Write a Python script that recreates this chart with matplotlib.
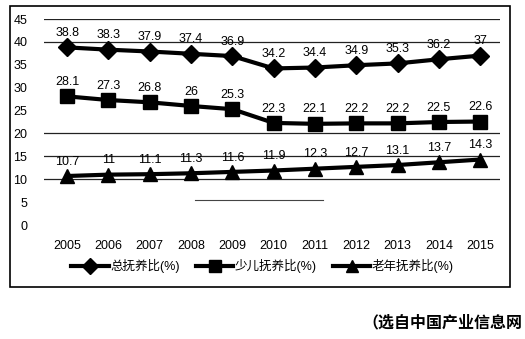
import matplotlib.pyplot as plt
from matplotlib.patches import Rectangle
from matplotlib.lines import Line2D

plt.rcParams['font.family'] = ['Liberation Sans', 'Noto Sans CJK SC', 'DejaVu Sans']

# data
years = [2005, 2006, 2007, 2008, 2009, 2010, 2011, 2012, 2013, 2014, 2015]
total = [38.8, 38.3, 37.9, 37.4, 36.9, 34.2, 34.4, 34.9, 35.3, 36.2, 37]
child = [28.1, 27.3, 26.8, 26, 25.3, 22.3, 22.1, 22.2, 22.2, 22.5, 22.6]
elder = [10.7, 11, 11.1, 11.3, 11.6, 11.9, 12.3, 12.7, 13.1, 13.7, 14.3]
series_names = ['总抚养比(%)', '少儿抚养比(%)', '老年抚养比(%)']
yticks = [0, 5, 10, 15, 20, 25, 30, 35, 40, 45]

W, H = 525, 339
fig = plt.figure(figsize=(W / 100, H / 100), dpi=100)

# outer frame
fig.patches.append(Rectangle((10 / W, 1 - 287 / H), 500 / W, 281 / H,
                             transform=fig.transFigure, fill=False,
                             edgecolor='black', linewidth=1.2))

ax = fig.add_axes([44 / W, 1 - 225 / H, 456 / W, 206 / H])
ax.set_xlim(2004.44, 2015.48)
ax.set_ylim(0, 45)
for s in ax.spines.values():
    s.set_visible(False)

# partial grid lines like the scanned original
for y in [45, 40, 20, 15, 10]:
    ax.axhline(y, color='#222222', linewidth=0.9, zorder=1)
ax.plot([2008.1, 2011.2], [5.5, 5.5], color='#444444', linewidth=0.8, zorder=1)

styles = [('D', 9), ('s', 10), ('^', 10)]
handles = []
for vals, (m, ms), name in zip([total, child, elder], styles, series_names):
    ax.plot(years, vals, color='black', linewidth=3, marker=m, markersize=ms, zorder=3)
    handles.append(Line2D([], [], color='black', linewidth=3, marker=m, markersize=ms - 1, label=name))
    for x, v in zip(years, vals):
        ax.annotate(f'{v:g}', (x, v), xytext=(0, 6), textcoords='offset points',
                    ha='center', va='bottom', fontsize=9, zorder=4)

ax.set_yticks(yticks)
ax.set_xticks(years)
ax.tick_params(axis='both', length=0, labelsize=9)
ax.tick_params(axis='x', pad=11)
ax.tick_params(axis='y', pad=12)

fig.legend(handles=handles, loc='center', bbox_to_anchor=(0.5, 1 - 266 / H), ncol=3,
           frameon=False, fontsize=9, handlelength=3, columnspacing=1.3, handletextpad=0.1)

fig.text(362 / W, 1 - 322 / H, '（选自中国产业信息网', fontsize=11.5, fontweight='bold',
         family=['Noto Sans CJK SC'], va='center', ha='left')

fig.savefig('out.png', dpi=100)
